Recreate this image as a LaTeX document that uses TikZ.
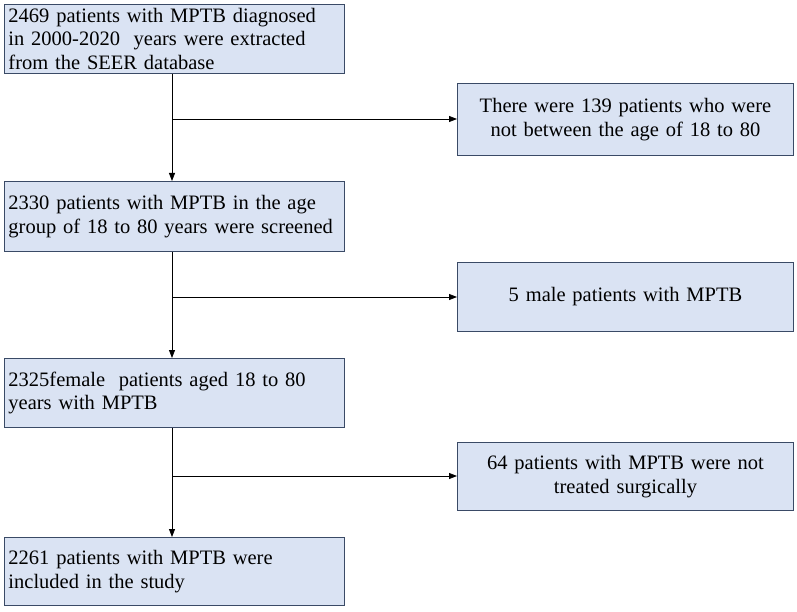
\documentclass[tikz,border=0pt]{standalone}
\usepackage{fontspec}
\setmainfont{Liberation Serif}
\usetikzlibrary{arrows.meta}
\definecolor{boxfill}{HTML}{DAE3F3}
\definecolor{boxline}{HTML}{3A4A66}
\begin{document}
\begin{tikzpicture}[x=1pt,y=-1pt,
  lbox/.style={draw=boxline,fill=boxfill,line width=0.9pt,minimum width=338pt,text width=332pt,align=left,anchor=north west,font=\fontsize{20.5}{23.5}\selectfont,inner xsep=4pt,inner ysep=0pt},
  rbox/.style={draw=boxline,fill=boxfill,line width=0.9pt,minimum width=336pt,text width=330pt,align=center,anchor=north west,font=\fontsize{20.5}{23.5}\selectfont,inner sep=0pt},
  arr/.style={-{Triangle[length=8pt,width=6pt]},line width=0.8pt}]
\useasboundingbox (0,0) rectangle (797,612);
\node[lbox,minimum height=69pt] (b1) at (4,4) {2469 patients with MPTB diagnosed\\in 2000-2020~ years were extracted\\from the SEER database};
\node[lbox,minimum height=70pt] (b2) at (4,181) {2330 patients with MPTB in the age\\group of 18 to 80 years were screened};
\node[lbox,minimum height=69pt] (b3) at (4,358) {2325female~ patients aged 18 to 80\\years with MPTB};
\node[lbox,minimum height=68pt] (b4) at (4,537) {2261 patients with MPTB were\\included in the study};
\node[rbox,minimum height=72pt] (r1) at (457,83) {There were 139 patients who were\\not between the age of 18 to 80};
\node[rbox,minimum height=69pt] (r2) at (457,262) {5 male patients with MPTB};
\node[rbox,minimum height=68pt] (r3) at (457,442) {64 patients with MPTB were not\\treated surgically};
\coordinate (c1) at (172,119);
\coordinate (c2) at (172,297);
\coordinate (c3) at (172,476);
\draw[arr] (b1.south -| c1) -- (b2.north -| c1);
\draw[arr] (b2.south -| c1) -- (b3.north -| c1);
\draw[arr] (b3.south -| c1) -- (b4.north -| c1);
\draw[arr] (c1) -- (c1 -| r1.west);
\draw[arr] (c2) -- (c2 -| r2.west);
\draw[arr] (c3) -- (c3 -| r3.west);
\end{tikzpicture}
\end{document}
